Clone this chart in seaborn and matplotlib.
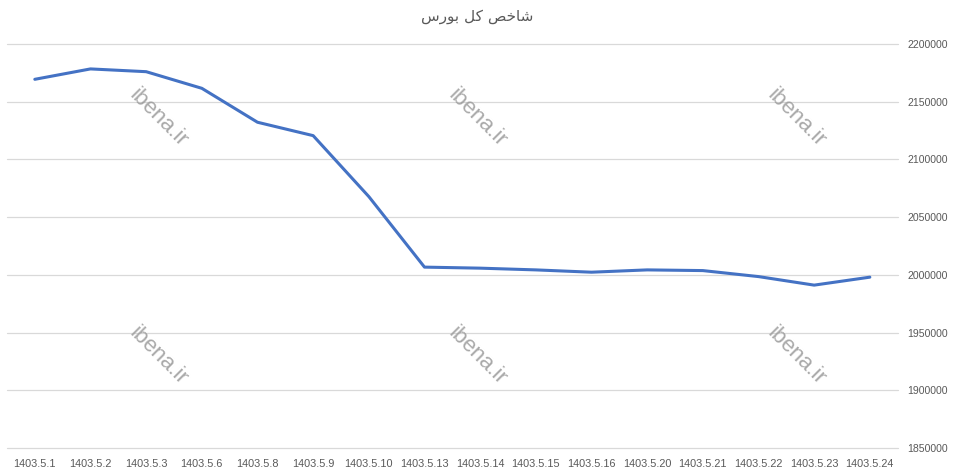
"""Tehran stock exchange total index (شاخص کل بورس), Mordad 1403"""

import numpy as np
import pandas as pd
import matplotlib
matplotlib.use('Agg')
import matplotlib.pyplot as plt
import seaborn as sns

# Data
dates = [
    '1403.5.1', '1403.5.2', '1403.5.3', '1403.5.6', '1403.5.8', '1403.5.9',
    '1403.5.10', '1403.5.13', '1403.5.14', '1403.5.15', '1403.5.16',
    '1403.5.20', '1403.5.21', '1403.5.22', '1403.5.23', '1403.5.24',
]
index_values = [
    2169400, 2178400, 2176000, 2161600, 2132200, 2120600,
    2067800, 2006700, 2005800, 2004300, 2002300,
    2004300, 2003700, 1998500, 1991100, 1998000,
]
y_ticks = [1850000, 1900000, 1950000, 2000000, 2050000, 2100000, 2150000, 2200000]

# Persian title, written in presentation forms (visual order) since matplotlib has no shaping
title_text = '\uFEB1\uFEAD\uFEEE\uFE91 \uFEDE\uFB90 \uFEBA\uFEA7\uFE8E\uFEB7'
watermark = 'ibena.ir'

df = pd.DataFrame({'date': dates, 'value': index_values})

sns.set_theme(style='white')
plt.rcParams['font.family'] = ['Liberation Sans', 'DejaVu Sans']

fig = plt.figure(figsize=(9.57, 4.76), dpi=100)
ax = fig.add_axes([0.0073, 0.0588, 0.9307, 0.8488])

sns.lineplot(data=df, x='date', y='value', sort=False, color='#4472C4',
             linewidth=2.2, ax=ax, zorder=3)

ax.set_xlim(-0.5, len(dates) - 0.5)
ax.set_ylim(y_ticks[0], y_ticks[-1])
ax.set_yticks(y_ticks)
ax.set_yticklabels([str(v) for v in y_ticks])
ax.yaxis.tick_right()
ax.yaxis.grid(True, color='#d9d9d9', linewidth=0.9)
ax.xaxis.grid(False)
for gl in ax.get_ygridlines():
    gl.set_clip_on(False)
for side in ['top', 'right', 'left', 'bottom']:
    ax.spines[side].set_visible(False)
ax.set_xlabel('')
ax.set_ylabel('')
ax.tick_params(axis='y', length=0, pad=7, labelsize=7.6, labelcolor='#595959')
ax.tick_params(axis='x', length=0, pad=8, labelsize=7.8, labelcolor='#595959')

# Watermarks
for wx in [158, 477, 796]:
    for wy in [118, 356]:
        fig.text(wx / 957, 1 - wy / 476, watermark, rotation=-45,
                 rotation_mode='anchor', ha='center', va='center',
                 fontsize=16, color='#9a9a9a', alpha=0.85,
                 family=['Liberation Sans', 'DejaVu Sans'])

fig.text(477 / 957, 1 - 17 / 476, title_text, ha='center', va='center',
         fontsize=11, color='#595959', family=['DejaVu Sans'])

fig.savefig('out.png', dpi=100, facecolor='white')
